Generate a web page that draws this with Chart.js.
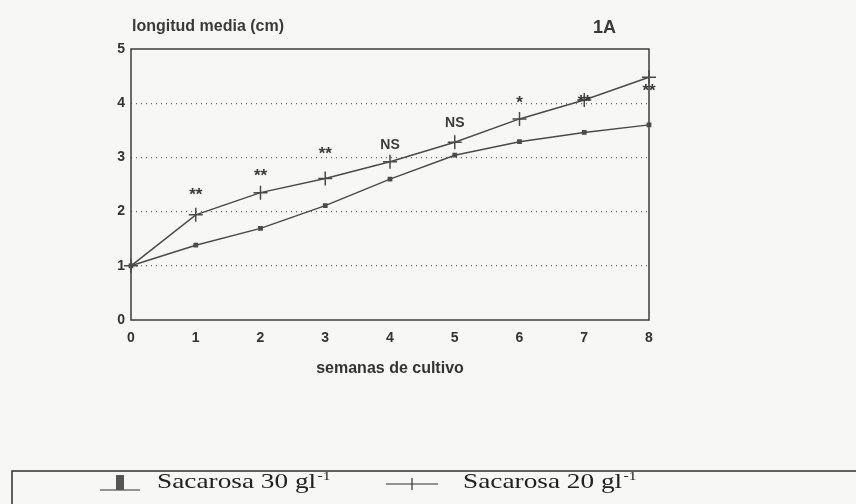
<!DOCTYPE html>
<html>
<head>
<meta charset="utf-8">
<script src="https://cdn.jsdelivr.net/npm/chart.js@4.4.0/dist/chart.umd.min.js"></script>
<style>
html, body { margin:0; padding:0; background:#f7f7f5; }
#wrap { position:relative; width:856px; height:504px; }
</style>
</head>
<body>
<div id="wrap"><canvas id="myChart" width="856" height="504"></canvas></div>
<script>
// data
var weeks = ['0', '1', '2', '3', '4', '5', '6', '7', '8'];
var sac30 = [1.0, 1.38, 1.69, 2.11, 2.60, 3.04, 3.29, 3.46, 3.60];
var sac20 = [1.0, 1.94, 2.35, 2.61, 2.92, 3.28, 3.71, 4.06, 4.48];
var sigLabels = ['', '**', '**', '**', 'NS', 'NS', '*', '**', '**'];
var sigY = [null, 2.37, 2.73, 3.12, 3.25, 3.66, 4.07, 4.09, 4.29];
var yTicks = [0, 1, 2, 3, 4, 5];
var yTitle = 'longitud media (cm)';
var xTitle = 'semanas de cultivo';
var panelName = '1A';
var seriesNames = ['Sacarosa 30 gl', 'Sacarosa 20 gl'];
var unitSup = '-1';

var ink = '#4a4a4a';
var sans = "'Liberation Sans', Arial, sans-serif";
var serif = "'Liberation Serif', 'Times New Roman', serif";

var extras = {
  id: 'extras',
  beforeDatasetsDraw: function(chart) {
    var ctx = chart.ctx, a = chart.chartArea;
    ctx.save();
    ctx.strokeStyle = '#3c3c3c';
    ctx.lineWidth = 1.5;
    ctx.strokeRect(a.left, a.top, a.right - a.left, a.bottom - a.top);
    ctx.restore();
  },
  afterDatasetsDraw: function(chart) {
    var ctx = chart.ctx;
    var xs = chart.scales.x, ys = chart.scales.y;
    ctx.save();
    ctx.fillStyle = '#3a3a3a';
    ctx.textAlign = 'center';
    ctx.textBaseline = 'alphabetic';
    for (var i = 0; i < sigLabels.length; i++) {
      if (!sigLabels[i]) continue;
      ctx.font = (sigLabels[i] == 'NS' ? 'bold 14px ' : 'bold 17px ') + sans;
      var px = xs.getPixelForValue(i);
      var py = ys.getPixelForValue(sigY[i]);
      var m = ctx.measureText(sigLabels[i]);
      ctx.fillText(sigLabels[i], px, py + (m.actualBoundingBoxAscent - m.actualBoundingBoxDescent) / 2);
    }

    // titles
    ctx.textAlign = 'left';
    ctx.font = 'bold 16px ' + sans;
    ctx.fillText(yTitle, 132, 31);
    ctx.font = 'bold 18px ' + sans;
    ctx.fillText(panelName, 593, 32.5);

    // legend box at the bottom
    ctx.strokeStyle = '#2e2e2e';
    ctx.lineWidth = 1.5;
    ctx.beginPath();
    ctx.moveTo(12, 520);
    ctx.lineTo(12, 471);
    ctx.lineTo(856, 471);
    ctx.stroke();

    ctx.strokeStyle = '#333';
    ctx.lineWidth = 1.2;
    ctx.beginPath();
    ctx.moveTo(100, 490); ctx.lineTo(140, 490);
    ctx.moveTo(386, 484); ctx.lineTo(438, 484);
    ctx.moveTo(412, 478); ctx.lineTo(412, 490);
    ctx.stroke();
    ctx.fillStyle = '#555';
    ctx.fillRect(116, 475, 8, 15);

    ctx.fillStyle = '#222';
    drawEntry(ctx, seriesNames[0], 157, 488);
    drawEntry(ctx, seriesNames[1], 463, 488);
    ctx.restore();
  }
};

function drawEntry(ctx, txt, x, y) {
  ctx.save();
  ctx.translate(x, y);
  ctx.scale(1.3, 1);
  ctx.font = '21px ' + serif;
  ctx.fillText(txt, 0, 0);
  var w = ctx.measureText(txt).width;
  ctx.font = '12px ' + serif;
  ctx.fillText(unitSup, w + 1, -8);
  ctx.restore();
}

var ctx = document.getElementById('myChart').getContext('2d');
var myChart = new Chart(ctx, {
  type: 'line',
  data: {
    labels: weeks,
    datasets: [{
      label: seriesNames[0],
      data: sac30,
      borderColor: ink,
      borderWidth: 1.5,
      pointStyle: 'rect',
      pointRadius: 2.3,
      pointBackgroundColor: ink,
      pointBorderColor: ink,
      clip: false
    }, {
      label: seriesNames[1],
      data: sac20,
      borderColor: ink,
      borderWidth: 1.5,
      pointStyle: 'cross',
      pointRadius: 7,
      pointBorderColor: ink,
      pointBorderWidth: 1.5,
      clip: false
    }]
  },
  options: {
    responsive: false,
    animation: false,
    layout: { padding: { left: 100, right: 207, top: 49, bottom: 126 } },
    plugins: { legend: { display: false }, tooltip: { enabled: false } },
    scales: {
      x: {
        offset: false,
        grid: { display: false, drawTicks: false },
        border: { display: false },
        ticks: { padding: 10, color: '#333', font: { family: sans, size: 14, weight: 'bold' } },
        title: { display: true, text: xTitle, color: '#333', padding: { top: 0, bottom: 0 },
                 font: { family: sans, size: 16, weight: 'bold' } },
        afterFit: function(s) { s.height = 58; }
      },
      y: {
        min: 0,
        max: 5,
        afterBuildTicks: function(s) { s.ticks = yTicks.map(function(v) { return { value: v }; }); },
        grid: {
          drawTicks: false,
          lineWidth: 1.3,
          color: function(c) { return (c.tick.value == 0 || c.tick.value == 5) ? 'rgba(0,0,0,0)' : '#666'; }
        },
        border: { display: false, dash: [1, 4] },
        ticks: { padding: 6, color: '#333', font: { family: sans, size: 14, weight: 'bold' } },
        afterFit: function(s) { s.width = 31; }
      }
    }
  },
  plugins: [extras]
});
</script>
</body>
</html>
